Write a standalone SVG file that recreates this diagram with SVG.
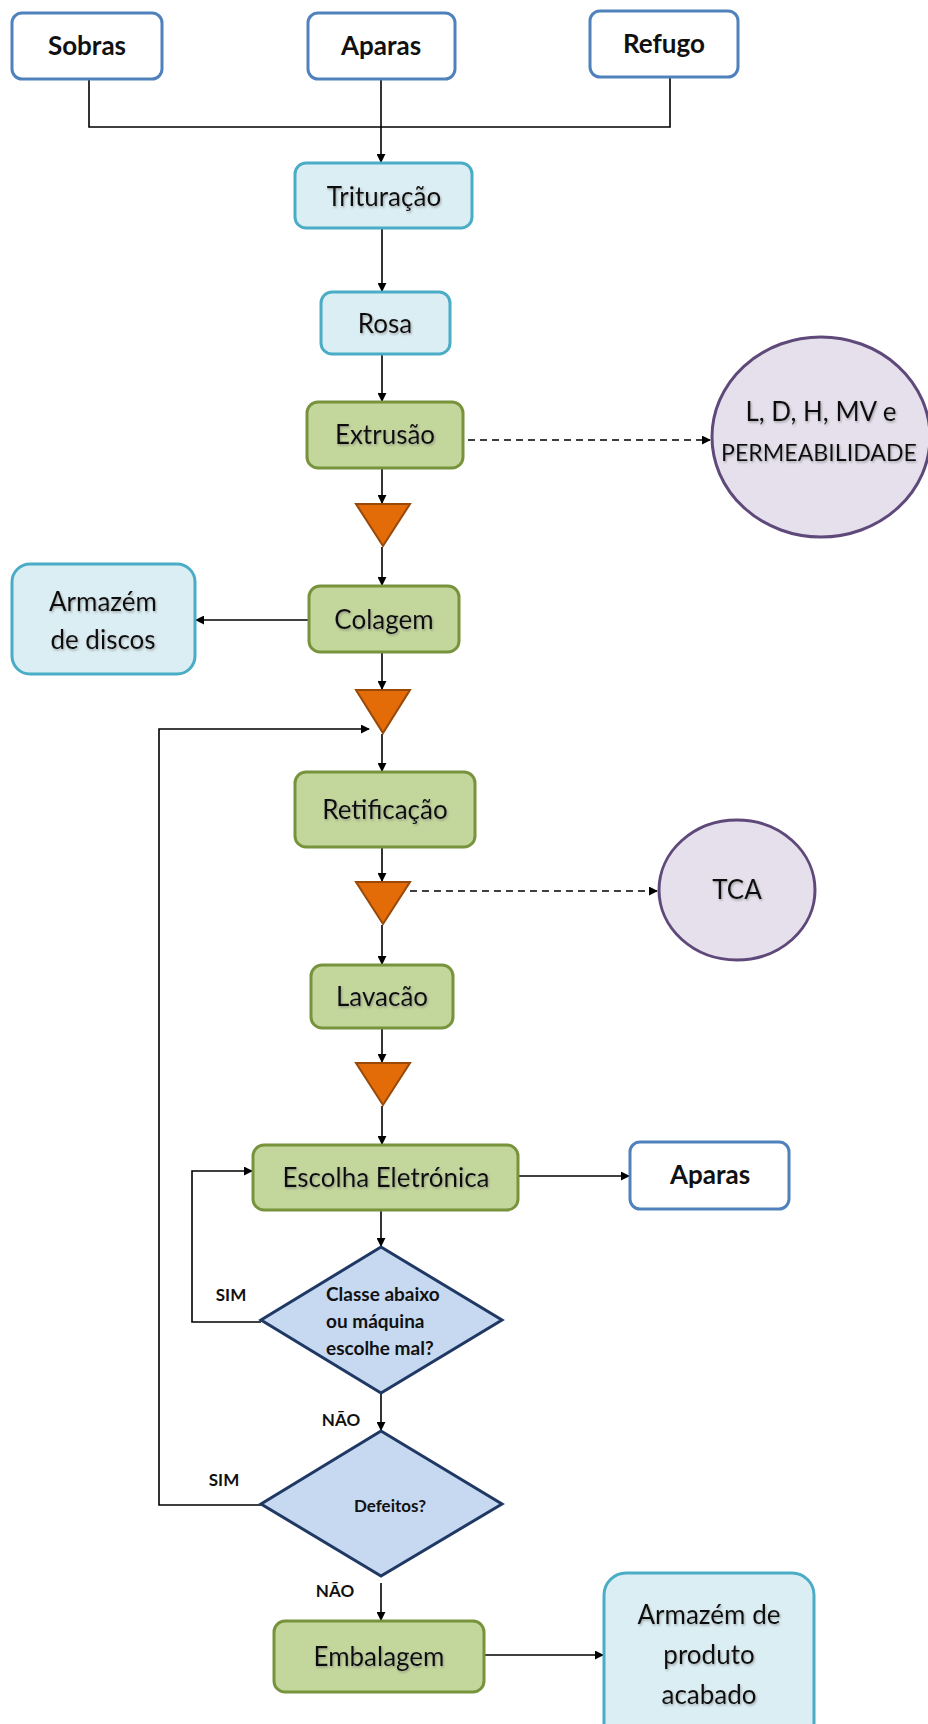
<svg xmlns="http://www.w3.org/2000/svg" width="928" height="1724" viewBox="0 0 928 1724">
  <style>
    .lbl { font-family: Lato, "Liberation Sans", sans-serif; fill: #111; text-anchor: middle; }
    .src rect { fill: #ffffff; stroke: #4F81BD; stroke-width: 3; }
    .src text { font-size: 24px; font-weight: bold; }
    .store rect { fill: #DBEEF4; stroke: #4BACC6; stroke-width: 3; }
    .proc rect { fill: #C3D69B; stroke: #77933C; stroke-width: 3; }
    .node text { font-size: 26px; filter: url(#txtshadow); }
    .src text { filter: none; }
    .wait polygon { fill: #E36C09; stroke: #984807; stroke-width: 2; }
    .meas ellipse { fill: #E5E0EC; stroke: #5F497A; stroke-width: 3; }
    .dec polygon { fill: #C6D9F1; stroke: #1F3864; stroke-width: 3; }
    .dec text { font-size: 19px; font-weight: bold; filter: none; }
    .flow { fill: none; stroke: #000; stroke-width: 1.6; }
    .dash { stroke-dasharray: 7 5; }
    .tag { font-family: Lato, "Liberation Sans", sans-serif; font-size: 17px; font-weight: bold; fill: #111; text-anchor: middle; }
  </style>
  <defs>
    <marker id="arr" viewBox="0 0 10 10" refX="9" refY="5" markerWidth="9" markerHeight="9" markerUnits="userSpaceOnUse" orient="auto">
      <path d="M0,0 L10,5 L0,10 z" fill="#000"/>
    </marker>
    <filter id="txtshadow" x="-5%" y="-30%" width="110%" height="160%">
      <feDropShadow dx="1" dy="1.5" stdDeviation="0.8" flood-color="#777" flood-opacity="0.6"/>
    </filter>
  </defs>

  <!-- connectors -->
  <g id="connectors">
    <polyline class="flow" points="89,79 89,127 670,127 670,77"/>
    <line class="flow" x1="381" y1="79" x2="381" y2="162" marker-end="url(#arr)"/>
    <line class="flow" x1="382" y1="228" x2="382" y2="291" marker-end="url(#arr)"/>
    <line class="flow" x1="382" y1="354" x2="382" y2="401" marker-end="url(#arr)"/>
    <line class="flow dash" x1="468" y1="440" x2="710" y2="440" marker-end="url(#arr)"/>
    <line class="flow" x1="382" y1="468" x2="382" y2="503" marker-end="url(#arr)"/>
    <line class="flow" x1="382" y1="547" x2="382" y2="585" marker-end="url(#arr)"/>
    <line class="flow" x1="309" y1="620" x2="196" y2="620" marker-end="url(#arr)"/>
    <line class="flow" x1="382" y1="652" x2="382" y2="689" marker-end="url(#arr)"/>
    <line class="flow" x1="382" y1="734" x2="382" y2="771" marker-end="url(#arr)"/>
    <line class="flow" x1="382" y1="847" x2="382" y2="881" marker-end="url(#arr)"/>
    <line class="flow dash" x1="410" y1="891" x2="657" y2="891" marker-end="url(#arr)"/>
    <line class="flow" x1="382" y1="925" x2="382" y2="964" marker-end="url(#arr)"/>
    <line class="flow" x1="382" y1="1028" x2="382" y2="1062" marker-end="url(#arr)"/>
    <line class="flow" x1="382" y1="1106" x2="382" y2="1144" marker-end="url(#arr)"/>
    <line class="flow" x1="518" y1="1176" x2="629" y2="1176" marker-end="url(#arr)"/>
    <line class="flow" x1="381" y1="1210" x2="381" y2="1246" marker-end="url(#arr)"/>
    <polyline class="flow" points="261,1322 192,1322 192,1171 252,1171" marker-end="url(#arr)"/>
    <line class="flow" x1="381" y1="1394" x2="381" y2="1430" marker-end="url(#arr)"/>
    <polyline class="flow" points="261,1505 159,1505 159,729 369,729" marker-end="url(#arr)"/>
    <line class="flow" x1="381" y1="1583" x2="381" y2="1620" marker-end="url(#arr)"/>
    <line class="flow" x1="484" y1="1655" x2="603" y2="1655" marker-end="url(#arr)"/>
    <text class="tag" x="231" y="1301">SIM</text>
    <text class="tag" x="341" y="1426">NÃO</text>
    <text class="tag" x="224" y="1486">SIM</text>
    <text class="tag" x="335" y="1597">NÃO</text>
  </g>

  <!-- sources -->
  <g id="sobras" class="node src">
    <rect x="12" y="13" width="150" height="66" rx="10"/>
    <text class="lbl" x="87" y="55">Sobras</text>
  </g>
  <g id="aparas-in" class="node src">
    <rect x="308" y="13" width="147" height="66" rx="10"/>
    <text class="lbl" x="381" y="55">Aparas</text>
  </g>
  <g id="refugo" class="node src">
    <rect x="590" y="11" width="148" height="66" rx="10"/>
    <text class="lbl" x="664" y="53">Refugo</text>
  </g>

  <g id="trituracao" class="node store">
    <rect x="295" y="163" width="177" height="65" rx="11"/>
    <text class="lbl" x="384" y="206">Trituração</text>
  </g>
  <g id="rosa" class="node store">
    <rect x="321" y="292" width="129" height="62" rx="11"/>
    <text class="lbl" x="385" y="333">Rosa</text>
  </g>
  <g id="extrusao" class="node proc">
    <rect x="307" y="402" width="156" height="66" rx="11"/>
    <text class="lbl" x="385" y="444">Extrusão</text>
  </g>
  <g id="medicoes" class="node meas">
    <ellipse cx="821" cy="437" rx="109" ry="100"/>
    <text class="lbl" x="821" y="421">L, D, H, MV e</text>
    <text class="lbl" x="819" y="461" style="font-size:23px" textLength="196" lengthAdjust="spacingAndGlyphs">PERMEABILIDADE</text>
  </g>
  <g id="espera1" class="wait">
    <polygon points="356,504 410,504 383,546"/>
  </g>
  <g id="colagem" class="node proc">
    <rect x="309" y="586" width="150" height="66" rx="11"/>
    <text class="lbl" x="384" y="629">Colagem</text>
  </g>
  <g id="armazem-discos" class="node store">
    <rect x="12" y="564" width="183" height="110" rx="18"/>
    <text class="lbl" x="103" y="611">Armazém</text>
    <text class="lbl" x="103" y="649">de discos</text>
  </g>
  <g id="espera2" class="wait">
    <polygon points="356,690 410,690 383,733"/>
  </g>
  <g id="retificacao" class="node proc">
    <rect x="295" y="772" width="180" height="75" rx="11"/>
    <text class="lbl" x="385" y="819">Retificação</text>
  </g>
  <g id="espera3" class="wait">
    <polygon points="356,882 410,882 383,924"/>
  </g>
  <g id="tca" class="node meas">
    <ellipse cx="737" cy="890" rx="78" ry="70"/>
    <text class="lbl" x="737" y="899">TCA</text>
  </g>
  <g id="lavacao" class="node proc">
    <rect x="311" y="965" width="142" height="63" rx="11"/>
    <text class="lbl" x="382" y="1006">Lavacão</text>
  </g>
  <g id="espera4" class="wait">
    <polygon points="356,1063 410,1063 383,1105"/>
  </g>
  <g id="escolha" class="node proc">
    <rect x="253" y="1145" width="265" height="65" rx="11"/>
    <text class="lbl" x="386" y="1187">Escolha Eletrónica</text>
  </g>
  <g id="aparas-out" class="node src">
    <rect x="630" y="1142" width="159" height="67" rx="10"/>
    <text class="lbl" x="710" y="1184">Aparas</text>
  </g>
  <g id="decisao-classe" class="node dec">
    <polygon points="381,1247 502,1320 381,1393 261,1320"/>
    <text class="lbl" x="326" y="1301" style="text-anchor:start">Classe abaixo</text>
    <text class="lbl" x="326" y="1328" style="text-anchor:start">ou máquina</text>
    <text class="lbl" x="326" y="1355" style="text-anchor:start">escolhe mal?</text>
  </g>
  <g id="decisao-defeitos" class="node dec">
    <polygon points="381,1431 502,1504 381,1576 261,1504"/>
    <text class="lbl" x="390" y="1512" style="font-size:17px">Defeitos?</text>
  </g>
  <g id="embalagem" class="node proc">
    <rect x="274" y="1621" width="210" height="71" rx="11"/>
    <text class="lbl" x="379" y="1666">Embalagem</text>
  </g>
  <g id="armazem-produto" class="node store">
    <rect x="604" y="1573" width="210" height="175" rx="22"/>
    <text class="lbl" x="709" y="1624">Armazém de</text>
    <text class="lbl" x="709" y="1664">produto</text>
    <text class="lbl" x="709" y="1704">acabado</text>
  </g>
</svg>
